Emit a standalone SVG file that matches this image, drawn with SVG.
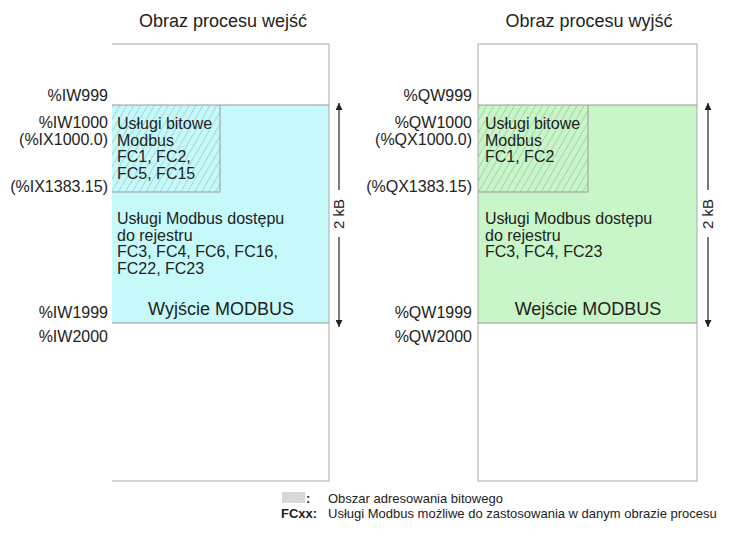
<svg xmlns="http://www.w3.org/2000/svg" width="741" height="536" viewBox="0 0 741 536">
<style>
text{font-family:"Liberation Sans",Arial,sans-serif;fill:#222;}
.title{font-size:18px;text-anchor:middle;}
.lbl{font-size:16px;text-anchor:end;}
.txt{font-size:16px;}
.big{font-size:18px;text-anchor:middle;}
.leg{font-size:13px;}
.frame{fill:none;stroke:#aaa;stroke-width:1;}
.edge{stroke:#999;stroke-width:1;fill:none;}
.dim{stroke:#222;stroke-width:1.2;fill:none;}
</style>
<defs>
<pattern id="hatchC" patternUnits="userSpaceOnUse" width="6" height="6" patternTransform="rotate(30)">
<rect width="6" height="6" fill="#c6fafa"/>
<line x1="0" y1="0" x2="0" y2="6" stroke="#7f9e9e" stroke-width="0.8"/>
</pattern>
<pattern id="hatchG" patternUnits="userSpaceOnUse" width="6" height="6" patternTransform="rotate(30)">
<rect width="6" height="6" fill="#c8f6c8"/>
<line x1="0" y1="0" x2="0" y2="6" stroke="#7f9e7f" stroke-width="0.8"/>
</pattern>
<pattern id="hatchL" patternUnits="userSpaceOnUse" width="2" height="2" patternTransform="rotate(30)">
<rect width="2" height="2" fill="#e0e0e0"/>
<line x1="0" y1="0" x2="0" y2="2" stroke="#b5b5b5" stroke-width="0.7"/>
</pattern>
<marker id="ah" viewBox="0 0 10 10" refX="10" refY="5" markerWidth="7" markerHeight="7" orient="auto-start-reverse" markerUnits="userSpaceOnUse">
<path d="M0,0 L10,5 L0,10 z" fill="#222"/>
</marker>
</defs>

<g id="input-image">
<text class="title" x="223" y="27">Obraz procesu wejść</text>
<rect x="112" y="105" width="217" height="218" fill="#c6fafa"/>
<rect x="112" y="105" width="108" height="87" fill="url(#hatchC)"/>
<path class="edge" d="M220,105 V192 H112"/>
<path class="frame" d="M112,44 H329 V481 H112"/>
<path class="edge" d="M112,105 H329 M112,323 H329"/>
<text class="txt" x="117" y="129">Usługi bitowe</text>
<text class="txt" x="117" y="146">Modbus</text>
<text class="txt" x="117" y="162">FC1, FC2,</text>
<text class="txt" x="117" y="179">FC5, FC15</text>
<text class="txt" x="117" y="224">Usługi Modbus dostępu</text>
<text class="txt" x="117" y="241">do rejestru</text>
<text class="txt" x="117" y="257">FC3, FC4, FC6, FC16,</text>
<text class="txt" x="117" y="274">FC22, FC23</text>
<text class="big" x="221" y="315">Wyjście MODBUS</text>
<text class="lbl" x="108" y="101">%IW999</text>
<text class="lbl" x="108" y="128">%IW1000</text>
<text class="lbl" x="108" y="145">(%IX1000.0)</text>
<text class="lbl" x="108" y="192">(%IX1383.15)</text>
<text class="lbl" x="108" y="318">%IW1999</text>
<text class="lbl" x="108" y="342">%IW2000</text>
</g>

<g id="output-image">
<text class="title" x="589" y="27">Obraz procesu wyjść</text>
<rect x="478" y="105" width="219" height="218" fill="#c8f6c8"/>
<rect x="478" y="105" width="110" height="87" fill="url(#hatchG)"/>
<path class="edge" d="M588,105 V192 H478"/>
<rect class="frame" x="478" y="44" width="219" height="437"/>
<path class="edge" d="M478,105 H697 M478,323 H697"/>
<text class="txt" x="485" y="129">Usługi bitowe</text>
<text class="txt" x="485" y="146">Modbus</text>
<text class="txt" x="485" y="162">FC1, FC2</text>
<text class="txt" x="485" y="224">Usługi Modbus dostępu</text>
<text class="txt" x="485" y="241">do rejestru</text>
<text class="txt" x="485" y="257">FC3, FC4, FC23</text>
<text class="big" x="588" y="315">Wejście MODBUS</text>
<text class="lbl" x="472" y="101">%QW999</text>
<text class="lbl" x="472" y="128">%QW1000</text>
<text class="lbl" x="472" y="145">(%QX1000.0)</text>
<text class="lbl" x="472" y="192">(%QX1383.15)</text>
<text class="lbl" x="472" y="318">%QW1999</text>
<text class="lbl" x="472" y="342">%QW2000</text>
</g>

<g id="connectors">
<line class="dim" x1="339" y1="190" x2="339" y2="103" marker-end="url(#ah)"/>
<line class="dim" x1="339" y1="237" x2="339" y2="327" marker-end="url(#ah)"/>
<text class="leg" style="font-size:15px" text-anchor="middle" transform="translate(344,214) rotate(-90)">2 kB</text>
<line class="dim" x1="708" y1="190" x2="708" y2="103" marker-end="url(#ah)"/>
<line class="dim" x1="708" y1="237" x2="708" y2="327" marker-end="url(#ah)"/>
<text class="leg" style="font-size:15px" text-anchor="middle" transform="translate(713,214) rotate(-90)">2 kB</text>
</g>

<g id="legend">
<rect x="282" y="492" width="23" height="11" fill="url(#hatchL)"/>
<text class="leg" x="306" y="503" style="font-weight:bold">:</text>
<text class="leg" x="328" y="503">Obszar adresowania bitowego</text>
<text class="leg" x="281" y="518" style="font-weight:bold">FCxx:</text>
<text class="leg" x="328" y="518">Usługi Modbus możliwe do zastosowania w danym obrazie procesu</text>
</g>
</svg>
